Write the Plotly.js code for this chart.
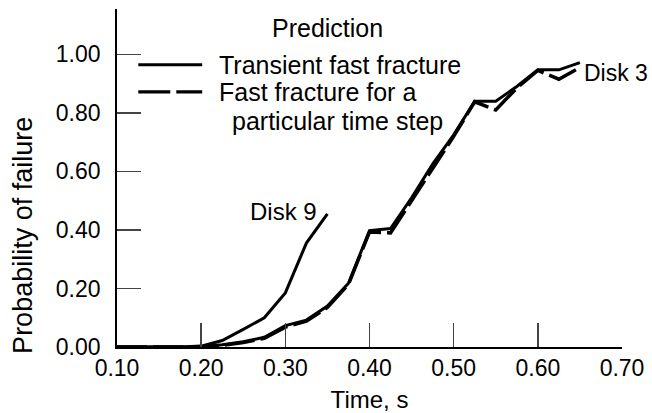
<!DOCTYPE html>
<html>
<head>
<meta charset="utf-8">
<script src="https://cdn.plot.ly/plotly-3.0.1.min.js"></script>
<style>html,body{margin:0;padding:0;background:#fff;}#chart{width:652px;height:413px;}</style>
</head>
<body>
<div id="chart"></div>
<script>
// Time, s
var disk9Time = [0.10, 0.125, 0.15, 0.175, 0.20, 0.225, 0.25, 0.275, 0.30, 0.325, 0.35];
var disk9Transient = [0.0, 0.0, 0.0, 0.0, 0.003, 0.022, 0.06, 0.10, 0.185, 0.355, 0.455];

var disk3Time = [0.10, 0.125, 0.15, 0.175, 0.20, 0.225, 0.25, 0.275, 0.30, 0.325, 0.35, 0.375, 0.40, 0.425, 0.45, 0.475, 0.50, 0.525, 0.55, 0.575, 0.60, 0.625, 0.65];
var disk3Transient = [0.0, 0.0, 0.0, 0.0, 0.0, 0.008, 0.018, 0.033, 0.073, 0.092, 0.14, 0.218, 0.398, 0.405, 0.51, 0.625, 0.725, 0.84, 0.84, 0.89, 0.947, 0.947, 0.972];
var disk3TimeStep = [0.0, 0.0, 0.0, 0.0, 0.0, 0.006, 0.015, 0.03, 0.068, 0.088, 0.135, 0.214, 0.393, 0.39, 0.50, 0.615, 0.72, 0.838, 0.81, 0.885, 0.945, 0.915, 0.955];

var xTicks = [0.10, 0.20, 0.30, 0.40, 0.50, 0.60, 0.70];
var yTicks = [0.00, 0.20, 0.40, 0.60, 0.80, 1.00];

var xTitle = "Time, s";
var yTitle = "Probability of failure";
var legendTitle = "Prediction";
var legendSolid = "Transient fast fracture";
var legendDashed1 = "Fast fracture for a";
var legendDashed2 = "particular time step";

var FONT = "Liberation Sans, Arial, Helvetica, sans-serif";
var lineW = 3;

var traces = [
  {x: disk9Time, y: disk9Transient, mode: "lines", name: "Disk 9 transient",
   line: {color: "#000", width: lineW}},
  {x: disk3Time, y: disk3TimeStep, mode: "lines", name: "Disk 3 time step",
   line: {color: "#000", width: lineW + 0.5, dash: "30px,6px"}},
  {x: disk3Time, y: disk3Transient, mode: "lines", name: "Disk 3 transient",
   line: {color: "#000", width: lineW}}
];

var layout = {
  width: 652, height: 413,
  margin: {l: 117, r: 30, t: 9, b: 66},
  paper_bgcolor: "#fff", plot_bgcolor: "#fff",
  showlegend: false,
  font: {family: FONT, size: 23, color: "#000"},
  xaxis: {
    range: [0.10, 0.70], tickvals: xTicks, tickformat: ".2f",
    ticks: "inside", ticklen: 24, tickwidth: 1.5, tickcolor: "#444",
    showline: true, linecolor: "#000", linewidth: 1.8,
    showgrid: false, zeroline: false, ticklabelstandoff: 0,
    tickfont: {size: 23},
    title: {text: xTitle, font: {size: 24}, standoff: 12}
  },
  yaxis: {
    range: [0, 1.155], tickvals: yTicks, tickformat: ".2f",
    ticks: "inside", ticklen: 24, tickwidth: 1.5, tickcolor: "#444",
    showline: true, linecolor: "#000", linewidth: 1.8,
    showgrid: false, zeroline: false, ticklabelstandoff: 10,
    tickfont: {size: 23}
  },
  shapes: [
    {type: "line", xref: "x", yref: "y", x0: 0.1253, x1: 0.2012, y0: 0.9641, y1: 0.9641,
     line: {color: "#000", width: lineW}},
    {type: "line", xref: "x", yref: "y", x0: 0.1253, x1: 0.2012, y0: 0.8718, y1: 0.8718,
     line: {color: "#000", width: lineW + 0.3, dash: "32px,6px"}}
  ],
  annotations: [
    {text: yTitle, x: -0.1853, y: 0.33, xref: "paper", yref: "paper", showarrow: false,
     textangle: -90, xanchor: "center", yanchor: "middle", font: {size: 27}},
    {text: legendTitle, x: 0.3495, y: 1.0906, xref: "x", yref: "y", showarrow: false,
     xanchor: "center", yanchor: "middle", font: {size: 25}},
    {text: legendSolid, x: 0.219, y: 0.9641, xref: "x", yref: "y", showarrow: false,
     xanchor: "left", yanchor: "middle", font: {size: 25}},
    {text: legendDashed1, x: 0.219, y: 0.8718, xref: "x", yref: "y", showarrow: false,
     xanchor: "left", yanchor: "middle", font: {size: 25}},
    {text: legendDashed2, x: 0.2344, y: 0.7726, xref: "x", yref: "y", showarrow: false,
     xanchor: "left", yanchor: "middle", font: {size: 25}},
    {text: "Disk 9", x: 0.2558, y: 0.4626, xref: "x", yref: "y", showarrow: false,
     xanchor: "left", yanchor: "middle", font: {size: 24}},
    {text: "Disk 3", x: 0.6525, y: 0.9368, xref: "x", yref: "y", showarrow: false,
     xanchor: "left", yanchor: "middle", font: {size: 23}}
  ]
};

Plotly.newPlot("chart", traces, layout, {displayModeBar: false, staticPlot: true});
</script>
</body>
</html>
